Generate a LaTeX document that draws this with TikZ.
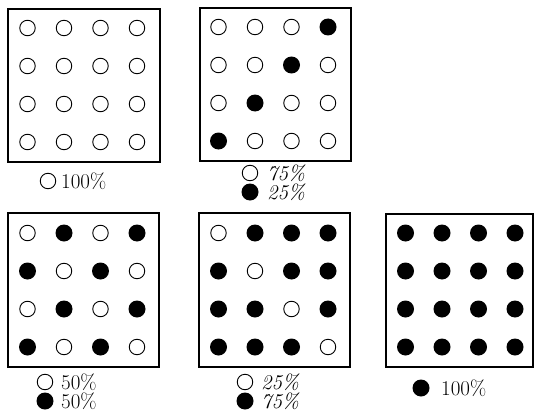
\documentclass[tikz,border=0pt]{standalone}
\tikzset{
  frame/.style={draw, line width=1.8pt, minimum width=152pt, minimum height=153pt, anchor=north west, inner sep=0pt, outer sep=0pt},
  w dot/.style={circle, draw, line width=0.9pt, minimum size=15.5pt, inner sep=0pt},
  b dot/.style={circle, fill=black, minimum size=17pt, inner sep=0pt},
  lbl/.style={anchor=base west, inner sep=0pt, font=\fontsize{21}{21}\selectfont},
  ilbl/.style={lbl, font=\fontsize{21}{21}\selectfont\itshape},
}
\newcommand{\dotgrid}[4]{%
  \foreach \row [count=\r from 0] in {#4} {
    \foreach \v [count=\c from 0] in \row {
      \node[\v\space dot] (#1-\r-\c) at ({#2+19.5+36.5*\c},{#3+19+38*\r}) {};
    }
  }
}
\begin{document}
\begin{tikzpicture}[x=1pt, y=-1pt]
  \useasboundingbox (0,0) rectangle (535,412);
  % boxes
  \node[frame] (box1) at (8,9) {};
  \node[frame, minimum width=151pt] (box2) at (200,8) {};
  \node[frame, minimum width=151pt, minimum height=154pt] (box3) at (8,213) {};
  \node[frame, minimum width=151pt, minimum height=154pt] (box4) at (199,213) {};
  \node[frame, minimum width=147pt] (box5) at (386,214) {};
  % dots
  \dotgrid{g1}{8}{9}{{w,w,w,w},{w,w,w,w},{w,w,w,w},{w,w,w,w}}
  \dotgrid{g2}{199}{8}{{w,w,w,b},{w,w,b,w},{w,b,w,w},{b,w,w,w}}
  \dotgrid{g3}{8}{214}{{w,b,w,b},{b,w,b,w},{w,b,w,b},{b,w,b,w}}
  \dotgrid{g4}{199}{214}{{w,b,b,b},{b,w,b,b},{b,b,w,b},{b,b,b,w}}
  \dotgrid{g5}{386}{214}{{b,b,b,b},{b,b,b,b},{b,b,b,b},{b,b,b,b}}
  % legends
  \node[w dot] (k1a) at (48,181) {};
  \node[lbl] (t1a) at (61,188) {100\%};
  \node[w dot] (k2a) at (250,173) {};
  \node[ilbl] (t2a) at (267,180) {75\%};
  \node[b dot] (k2b) at (250,192) {};
  \node[ilbl] (t2b) at (267,199) {25\%};
  \node[w dot] (k3a) at (45,382) {};
  \node[lbl] (t3a) at (61,389) {50\%};
  \node[b dot] (k3b) at (45,401) {};
  \node[lbl] (t3b) at (61,408) {50\%};
  \node[w dot] (k4a) at (245,382) {};
  \node[ilbl] (t4a) at (261,389) {25\%};
  \node[b dot] (k4b) at (245,401) {};
  \node[ilbl] (t4b) at (261,408) {75\%};
  \node[b dot] (k5a) at (421,388) {};
  \node[lbl] (t5a) at (441,395) {100\%};
\end{tikzpicture}
\end{document}
